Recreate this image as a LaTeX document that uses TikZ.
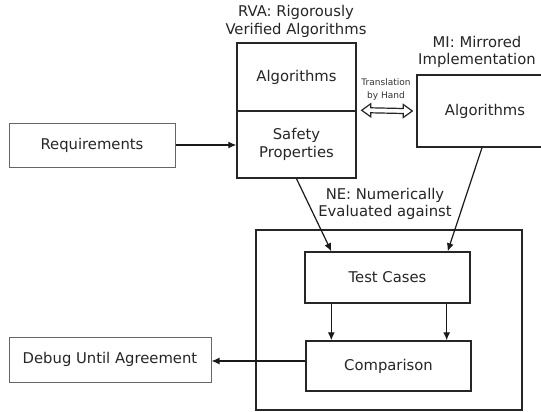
\documentclass[tikz,border=0pt]{standalone}
\usepackage{fontspec}
\setmainfont{DejaVu Sans}
\usetikzlibrary{arrows.meta,calc}
\begin{document}
\begin{tikzpicture}[x=1pt,y=-1pt,
  box/.style={draw=black!85,line width=1.4pt,inner sep=0pt,align=center,
    font=\fontsize{14.8}{17.5}\selectfont,text=black!85},
  lightbox/.style={draw=black!60,line width=1pt,inner sep=0pt,align=center,
    font=\fontsize{14.8}{17.5}\selectfont,text=black!85},
  lbl/.style={align=center,inner sep=0pt,font=\fontsize{14.8}{17.5}\selectfont,text=black!85},
  conn/.style={draw=black!90,line width=1.2pt,-{Latex[length=8pt,width=7pt]}},
  dblout/.style={draw=black!85,line width=1.2pt,fill=white,line join=miter}
]
\useasboundingbox (0,0) rectangle (541,412);
\fill[white] (0,0) rectangle (541,412);

\node[lightbox,minimum width=166pt,minimum height=44pt] (req) at (92,145) {Requirements};
\node[box,minimum width=119pt,minimum height=68pt] (rvaT) at (296.5,77) {Algorithms};
\node[box,minimum width=119pt,minimum height=67pt] (rvaB) at (296.5,144.5) {Safety\\Properties};
\node[box,minimum width=136pt,minimum height=72pt] (mi) at (485,111) {Algorithms};
\node[box,minimum width=266pt,minimum height=180pt] (outer) at (389,320) {};
\node[box,minimum width=165pt,minimum height=51pt] (tc) at (387.5,277.5) {Test Cases};
\node[box,minimum width=165pt,minimum height=50pt] (cmp) at (388.5,366) {Comparison};
\node[lightbox,minimum width=202pt,minimum height=45pt] (dbg) at (110,359.5) {Debug Until Agreement};

\node[lbl] (rvaTitle) at (296,21.5) {RVA: Rigorously\\Verified Algorithms};
\node[lbl] (miTitle) at (477,52) {MI: Mirrored\\Implementation};
\node[lbl] (neTitle) at (385,204) {NE: Numerically\\Evaluated against};
\node[align=center,inner sep=0pt,font=\fontsize{9}{13}\selectfont,text=black!80] (trans) at (386,89.5) {Translation\\by Hand};

\coordinate (da) at ([xshift=5pt]rvaB.north east);
\coordinate (db) at ([xshift=-4pt]mi.west);
\draw[dblout] (da) -- ($(da)+(9,-6.5)$) -- ($(da)+(9,-2.5)$) -- ($(db)+(-9,-2.5)$)
  -- ($(db)+(-9,-6.5)$) -- (db) -- ($(db)+(-9,6.5)$) -- ($(db)+(-9,2.5)$)
  -- ($(da)+(9,2.5)$) -- ($(da)+(9,6.5)$) -- cycle;

\draw[conn] (req.east) -- (req.east -| rvaB.west);
\draw[conn] (rvaB.south) -- ([xshift=27pt]tc.north west);
\draw[conn] ([xshift=-3pt]mi.south) -- ([xshift=-23pt]tc.north east);
\draw[conn] ([xshift=27pt]tc.south west) -- ([xshift=26pt]cmp.north west);
\draw[conn] ([xshift=-24pt]tc.south east) -- ([xshift=-25pt]cmp.north east);
\draw[conn] ([yshift=5pt]cmp.west) -- ([yshift=5pt]cmp.west -| dbg.east);
\end{tikzpicture}
\end{document}
